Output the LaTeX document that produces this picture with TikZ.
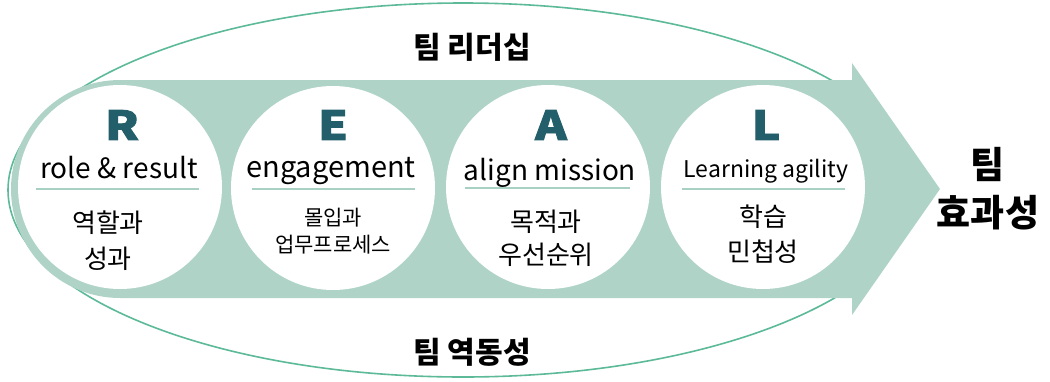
\documentclass[tikz,border=0pt]{standalone}
\usepackage{fontspec}
\setmainfont{Noto Sans CJK KR}
\newfontfamily\heavyfont[BoldFeatures={FakeBold=2}]{Noto Sans CJK KR}
\usetikzlibrary{positioning, calc}
\definecolor{realBand}{RGB}{175, 212, 199}
\definecolor{realLine}{RGB}{92, 186, 152}
\definecolor{realDark}{RGB}{35, 95, 107}
\definecolor{realRule}{RGB}{168, 209, 196}

\begin{document}
\begin{tikzpicture}[
    x=1pt, y=-1pt,
    stage/.style={
        circle,
        fill=white,
        minimum size=204pt,
        inner sep=0pt
    },
    letter/.style={font=\fontsize{40}{40}\heavyfont\bfseries, text=realDark, inner sep=0pt, xscale=1.2},
    english/.style={font=\fontsize{#1}{#1}\selectfont, inner sep=0pt, anchor=base},
    korean/.style n args={2}{font=\fontsize{#1}{#2}\selectfont, align=center, inner sep=0pt},
    caption/.style={font=\fontsize{30}{30}\selectfont\bfseries, inner sep=0pt},
    rule/.style={realRule, line width=2pt}
]
    \useasboundingbox (0,0) rectangle (1050,381);

    % Outer ellipse
    \draw[realLine, line width=1.6pt] (463,190) ellipse[x radius=455, y radius=187];

    % Band arrow
    \fill[realBand] (120,189) circle[radius=109];
    \fill[realBand] (120,80) -- (852,80) -- (852,63) -- (940,189)
        -- (852,315) -- (852,298) -- (120,298) -- cycle;

    % Stages
    \node[stage] (r) at (120,187) {};
    \node[stage] (e) at (333,188) {};
    \node[stage] (a) at (548,187) {};
    \node[stage] (l) at (763,187) {};

    % Letters
    \node[letter] (rLetter) at (122,125) {R};
    \node[letter] (eLetter) at (333,125) {E};
    \node[letter] (aLetter) at (551,125) {A};
    \node[letter] (lLetter) at (766,125) {L};

    % English
    \node[english=28] (rEnglish) at (119,178) {role \& result};
    \node[english=29] (eEnglish) at (331,177) {engagement};
    \node[english=28] (aEnglish) at (550,180) {align mission};
    \node[english=23] (lEnglish) at (766,177) {Learning agility};

    % Rules
    \draw[rule] (36,189) -- (199,189);
    \draw[rule] (252,189) -- (415,189);
    \draw[rule] (465,188) -- (630,188);
    \draw[rule] (682,189) -- (845,189);

    % Korean
    \node[korean={26}{36}] (rKorean) at (108,241) {역할과\\성과};
    \node[korean={21}{27}] (eKorean) at (333,231) {몰입과\\업무프로세스};
    \node[korean={26}{33}] (aKorean) at (546,238) {목적과\\우선순위};
    \node[korean={26}{35}] (lKorean) at (763,234) {학습\\민첩성};

    % Captions
    \node[caption] (leader) at (472,47) {팀 리더십};
    \node[caption] (dynamics) at (472,352) {팀 역동성};
    \node[caption, font=\fontsize{37}{48}\selectfont\bfseries, align=center] (effect)
        at (988,189) {팀\\효과성};

\end{tikzpicture}
\end{document}
